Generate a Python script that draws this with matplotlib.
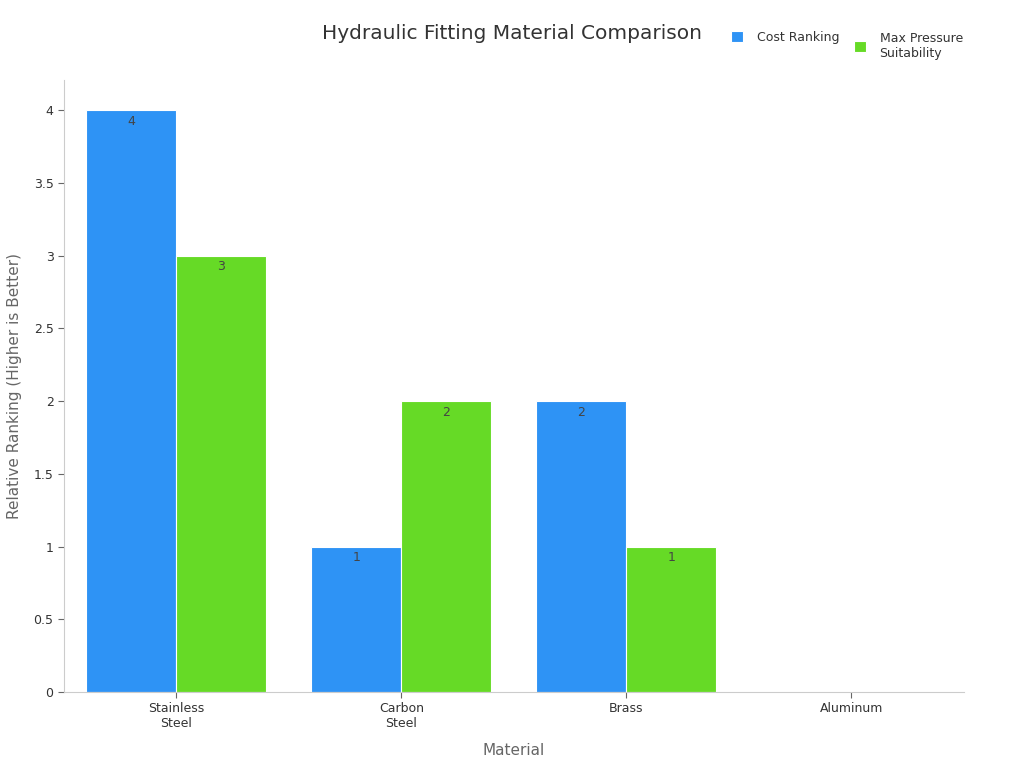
import numpy as np
import matplotlib
matplotlib.use("Agg")
import matplotlib.pyplot as plt

materials = ["Stainless\nSteel", "Carbon\nSteel", "Brass", "Aluminum"]
cost_ranking = [4, 1, 2, np.nan]
max_pressure = [3, 2, 1, np.nan]

plt.rcParams['font.family'] = ['DejaVu Sans']

fig = plt.figure(figsize=(10.24, 7.68), dpi=100)
ax = fig.add_axes([0.0625, 0.099, 0.8789, 0.797])

x = np.arange(len(materials))
w = 0.4
b1 = ax.bar(x - w / 2, cost_ranking, w, color='#2E93F5', edgecolor='white', linewidth=0.8, label='Cost Ranking')
b2 = ax.bar(x + w / 2, max_pressure, w, color='#66DA26', edgecolor='white', linewidth=0.8, label='Max Pressure\nSuitability')

for bars, vals in [(b1, cost_ranking), (b2, max_pressure)]:
    for rect, v in zip(bars, vals):
        if np.isnan(v):
            continue
        ax.text(rect.get_x() + rect.get_width() / 2, v - 0.03, f"{v:g}",
                ha='center', va='top', fontsize=9, color='#444444')

ax.set_xlim(-0.5, 3.5)
ax.set_ylim(0, 4.21)
ax.set_xticks(x)
ax.set_xticklabels(materials, fontsize=9, color='#333333')
ax.set_yticks([0, 0.5, 1, 1.5, 2, 2.5, 3, 3.5, 4])
ax.set_yticklabels(['0', '0.5', '1', '1.5', '2', '2.5', '3', '3.5', '4'], fontsize=9, color='#333333')
ax.tick_params(axis='both', length=4, color='#666666')

for s in ['top', 'right']:
    ax.spines[s].set_visible(False)
for s in ['left', 'bottom']:
    ax.spines[s].set_color('#cccccc')

ax.set_xlabel('Material', fontsize=11, color='#666666', labelpad=9)
ax.set_ylabel('Relative Ranking (Higher is Better)', fontsize=11, color='#666666', labelpad=8)

fig.text(0.5, 0.956, 'Hydraulic Fitting Material Comparison', ha='center', va='center', fontsize=14.5, color='#333333')

# one legend per entry so the single-line one sits at the top like the reference
fig.legend(handles=[b1], loc='upper left', bbox_to_anchor=(731 / 1024, 1 - 31 / 768),
           frameon=False, fontsize=9, handlelength=0.95, handleheight=0.95,
           handletextpad=1.1, borderpad=0, borderaxespad=0, labelcolor='#333333')
fig.legend(handles=[b2], loc='upper left', bbox_to_anchor=(854 / 1024, 1 - 32 / 768),
           frameon=False, fontsize=9, handlelength=0.95, handleheight=0.95,
           handletextpad=1.1, borderpad=0, borderaxespad=0, labelcolor='#333333')

fig.savefig('out.png', dpi=100)
